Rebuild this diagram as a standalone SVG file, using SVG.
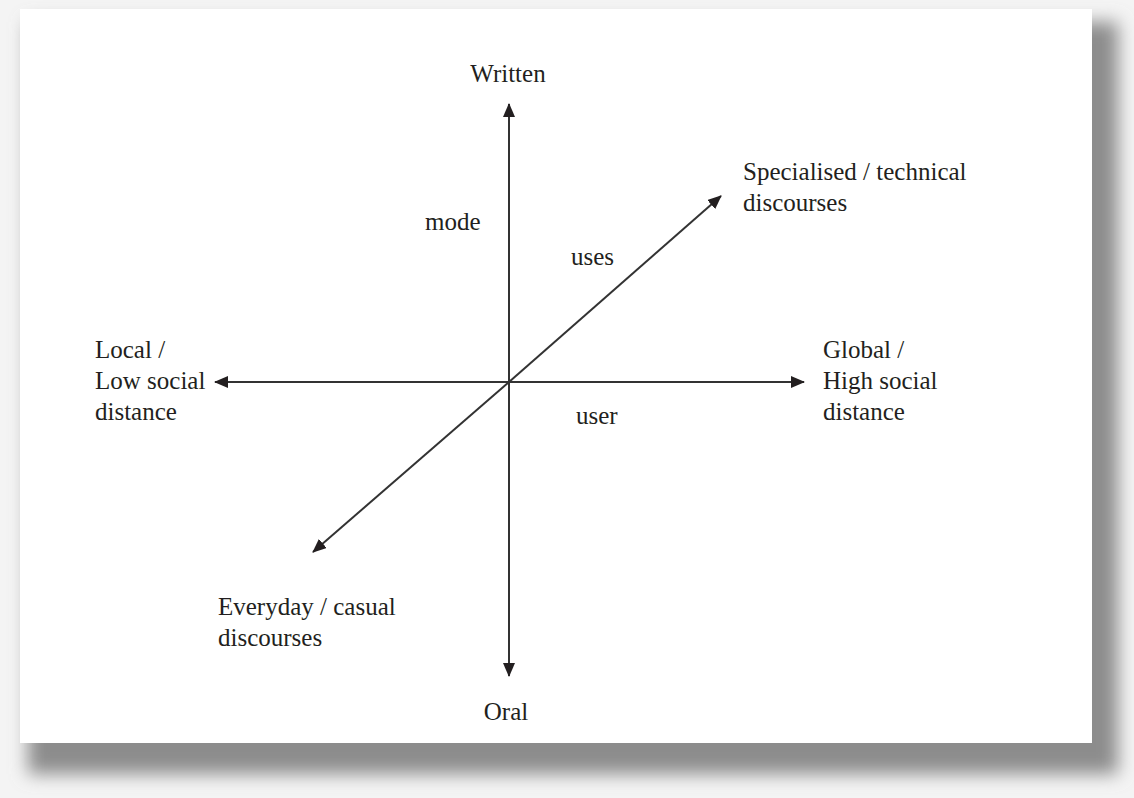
<svg xmlns="http://www.w3.org/2000/svg" width="1134" height="798" viewBox="0 0 1134 798">
  <defs>
    <filter id="blur" x="-5%" y="-5%" width="110%" height="110%">
      <feGaussianBlur stdDeviation="9"/>
    </filter>
    <marker id="ah" viewBox="0 0 14 12" refX="13" refY="6" markerWidth="14" markerHeight="12" markerUnits="userSpaceOnUse" orient="auto">
      <path d="M0,0 L14,6 L0,12 Z" fill="#231f20"/>
    </marker>
  </defs>
  <style>
    .t { font-family: "Liberation Serif", "Times New Roman", serif; font-size: 25px; fill: #231f20; }
    .ax { stroke: #333; stroke-width: 2; fill: none; marker-end: url(#ah); }
  </style>
  <rect x="0" y="0" width="1134" height="798" fill="#f4f4f4"/>
  <rect x="28" y="22" width="1090" height="752" fill="#8c8c8c" filter="url(#blur)"/>
  <rect x="20" y="9" width="1072" height="734" fill="#ffffff"/>

  <g id="connectors">
    <line class="ax" x1="509" y1="382" x2="509" y2="104"/>
    <line class="ax" x1="509" y1="382" x2="509" y2="676"/>
    <line class="ax" x1="509" y1="382" x2="215" y2="382"/>
    <line class="ax" x1="509" y1="382" x2="804" y2="382"/>
    <line class="ax" x1="509" y1="382" x2="721" y2="196"/>
    <line class="ax" x1="509" y1="382" x2="313" y2="552"/>
  </g>

  <g id="written"><text class="t" x="508" y="82" text-anchor="middle">Written</text></g>
  <g id="oral"><text class="t" x="506" y="720" text-anchor="middle">Oral</text></g>
  <g id="local">
    <text class="t" x="95" y="358">Local /</text>
    <text class="t" x="95" y="389">Low social</text>
    <text class="t" x="95" y="420">distance</text>
  </g>
  <g id="global">
    <text class="t" x="823" y="358">Global /</text>
    <text class="t" x="823" y="389">High social</text>
    <text class="t" x="823" y="420">distance</text>
  </g>
  <g id="specialised">
    <text class="t" x="743" y="180">Specialised / technical</text>
    <text class="t" x="743" y="211">discourses</text>
  </g>
  <g id="everyday">
    <text class="t" x="218" y="615">Everyday / casual</text>
    <text class="t" x="218" y="646">discourses</text>
  </g>
  <g id="mode"><text class="t" x="425" y="230">mode</text></g>
  <g id="uses"><text class="t" x="571" y="265">uses</text></g>
  <g id="user"><text class="t" x="576" y="424">user</text></g>
</svg>
